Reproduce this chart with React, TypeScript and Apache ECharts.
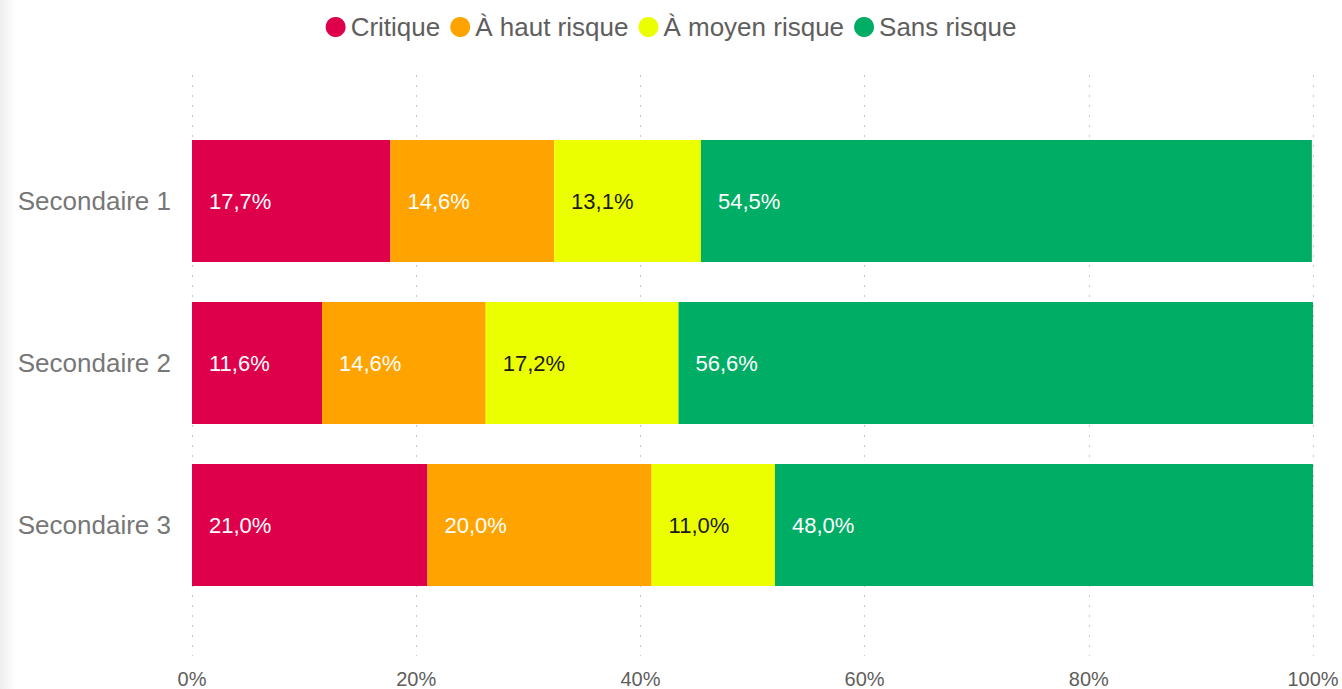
import React, { useEffect, useRef } from "react";
import * as echarts from "echarts";

const categories = ["Secondaire 1", "Secondaire 2", "Secondaire 3"];
const seriesNames = ["Critique", "À haut risque", "À moyen risque", "Sans risque"];
const critique = [17.7, 11.6, 21.0];
const hautRisque = [14.6, 14.6, 20.0];
const moyenRisque = [13.1, 17.2, 11.0];
const sansRisque = [54.5, 56.6, 48.0];
const colors = ["#DF004C", "#FFA300", "#ECFF00", "#00AD65"];
const labelColors = ["#FFFFFF", "#FFFFFF", "#1A1A1A", "#FFFFFF"];
const xTicks = [0, 20, 40, 60, 80, 100];

const FONT = "Arial, 'Liberation Sans', sans-serif";

export default function App() {
  const ref = useRef<HTMLDivElement>(null);
  useEffect(() => {
    if (!ref.current) return;
    const chart = echarts.init(ref.current, null, { renderer: "svg" });
    const values = [critique, hautRisque, moyenRisque, sansRisque];
    const fmt = (v: number) => v.toFixed(1).replace(".", ",") + "%";
    chart.setOption({
      animation: false,
      backgroundColor: "#FFFFFF",
      graphic: [
        {
          type: "rect",
          left: 0,
          top: 0,
          shape: { width: 16, height: 689 },
          style: {
            fill: new echarts.graphic.LinearGradient(0, 0, 1, 0, [
              { offset: 0, color: "#EDEDED" },
              { offset: 1, color: "#FFFFFF" },
            ]),
          },
          silent: true,
          z: -10,
        },
      ],
      legend: {
        top: 9,
        left: "center",
        icon: "circle",
        itemWidth: 20,
        itemHeight: 20,
        itemGap: 10,
        textStyle: { fontFamily: FONT, fontSize: 26, color: "#605E5C" },
        data: seriesNames,
      },
      grid: [
        { left: 192, width: 1121, top: 120, height: 486 },
        { left: 192, width: 1121, top: 75, height: 583 },
      ],
      xAxis: [
        {
          type: "value",
          gridIndex: 0,
          min: 0,
          max: 100,
          show: false,
        },
        {
          type: "value",
          gridIndex: 1,
          min: 0,
          max: 100,
          interval: 20,
          axisLine: { show: false },
          axisTick: { show: false },
          splitLine: { show: true, lineStyle: { type: [2, 8], color: "#C8C8C8", width: 1 } },
          axisLabel: {
            formatter: (v: number) => (xTicks.includes(v) ? v + "%" : ""),
            fontFamily: FONT,
            fontSize: 20,
            color: "#605E5C",
            margin: 13,
          },
        },
      ],
      yAxis: [
        {
          type: "category",
          gridIndex: 0,
          inverse: true,
          data: categories,
          axisLine: { show: false },
          axisTick: { show: false },
          splitLine: { show: false },
          axisLabel: { fontFamily: FONT, fontSize: 26, color: "#777777", margin: 21 },
        },
        { type: "value", gridIndex: 1, show: false, min: 0, max: 1 },
      ],
      series: seriesNames.map((name, i) => ({
        name,
        type: "bar",
        stack: "total",
        xAxisIndex: 0,
        yAxisIndex: 0,
        barWidth: 122,
        itemStyle: { color: colors[i] },
        label: {
          show: true,
          position: "insideLeft",
          distance: 17,
          formatter: (p: any) => fmt(p.value),
          fontFamily: FONT,
          fontSize: 22,
          color: labelColors[i],
        },
        data: values[i],
      })),
    });
    return () => chart.dispose();
  }, []);
  return <div ref={ref} style={{ position: "fixed", left: 0, top: 0, width: 1342, height: 689 }} />;
}
